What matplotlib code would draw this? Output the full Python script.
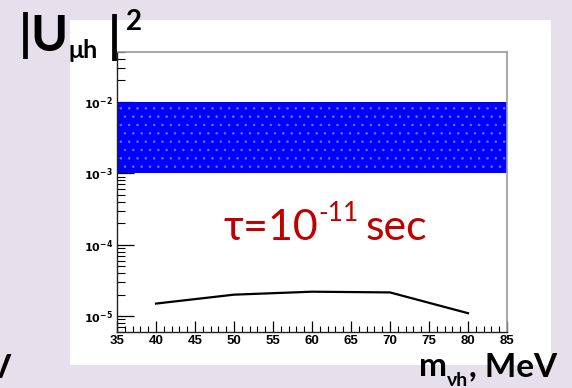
import matplotlib
matplotlib.use("Agg")
import matplotlib.pyplot as plt
import matplotlib.ticker as mticker
from matplotlib.patches import Rectangle

# data
mass = [40, 50, 60, 70, 80]
u2_limit = [1.5e-5, 2.0e-5, 2.2e-5, 2.15e-5, 1.1e-5]
band_x = [35, 85]
band_low = 1e-3
band_high = 1e-2
x_ticks = [35, 40, 45, 50, 55, 60, 65, 70, 75, 80, 85]
y_ticks = [1e-5, 1e-4, 1e-3, 1e-2]
y_tick_labels = [r"$\mathbf{10^{-5}}$", r"$\mathbf{10^{-4}}$", r"$\mathbf{10^{-3}}$", r"$\mathbf{10^{-2}}$"]

W, H = 572, 388
bg = "#e5e0ec"
plt.rcParams["hatch.linewidth"] = 0.6
plt.rcParams["mathtext.fontset"] = "dejavusans"

fig = plt.figure(figsize=(W / 100, H / 100), dpi=100, facecolor=bg)

# white panel
fig.patches.append(Rectangle((70 / W, 1 - 365 / H), (551 - 70) / W, (365 - 20) / H,
                             transform=fig.transFigure, facecolor="white", edgecolor="none", zorder=-5))

ax = fig.add_axes([117 / W, 1 - 332 / H, (507 - 117) / W, (332 - 52) / H])
ax.set_zorder(1)
ax.set_facecolor("white")
ax.set_yscale("log")
ax.set_xlim(35, 85)
ax.set_ylim(6e-6, 5e-2)

ax.fill_between(band_x, band_low, band_high, facecolor="#0000ff", edgecolor="#6f6fff",
                hatch="..", linewidth=0, zorder=2)
ax.plot(mass, u2_limit, color="black", lw=1.6, zorder=3)

for s in ["top", "right"]:
    ax.spines[s].set_color("#9a9a9a")
    ax.spines[s].set_linewidth(1.2)
for s in ["left", "bottom"]:
    ax.spines[s].set_color("#222222")
    ax.spines[s].set_linewidth(1.0)

ax.set_xticks(x_ticks)
ax.set_xticklabels([str(t) for t in x_ticks], fontweight="bold", fontsize=9.5, family="Liberation Sans")
ax.xaxis.set_minor_locator(mticker.MultipleLocator(1))
ax.tick_params(axis="x", which="major", direction="in", length=8, width=0.9, pad=2)
ax.tick_params(axis="x", which="minor", direction="in", length=4, width=0.8)

ax.set_yticks(y_ticks)
ax.set_yticklabels(y_tick_labels, fontsize=8)
ax.yaxis.set_minor_locator(mticker.LogLocator(base=10, subs=range(2, 10), numticks=20))
ax.yaxis.set_minor_formatter(mticker.NullFormatter())
ax.tick_params(axis="y", which="major", direction="in", length=12, width=0.9, pad=3)
ax.tick_params(axis="y", which="minor", direction="in", length=6, width=0.8)
ax.tick_params(top=False, right=False, which="both")

renderer = fig.canvas.get_renderer()
FAM = ["Lato", "DejaVu Sans"]


def ftxt(x, y, s, fs, wt="bold", col="black", ha="left"):
    return fig.text(x / W, 1 - y / H, s, fontsize=fs, fontweight=wt, color=col,
                    family=FAM, va="baseline", ha=ha, zorder=10)


def chain(x0, pieces):
    x = x0
    for s, y, fs, wt, col, gap in pieces:
        t = ftxt(x + gap, y, s, fs, wt, col)
        x = x + gap + t.get_window_extent(renderer).width


# annotation in the plot
red = "#c00000"
chain(223, [("τ=10", 240, 31, "normal", red, 0),
            ("-11", 221, 19, "normal", red, 1),
            ("sec", 240, 31, "normal", red, 7)])

# y label
ftxt(19, 51, "|U", 36)
ftxt(69, 58, "μh", 18)
ftxt(108, 53, "|", 36)
ftxt(126, 30, "2", 20)

# x label
chain(419, [("m", 376, 24, "bold", "black", 0),
            ("νh", 386, 14, "bold", "black", 0),
            (", MeV", 376, 24, "bold", "black", 1)])

# cut-off leftover letter at left edge
ftxt(-12, 378, "V", 23)

fig.savefig("out.png", dpi=100, facecolor=bg)
